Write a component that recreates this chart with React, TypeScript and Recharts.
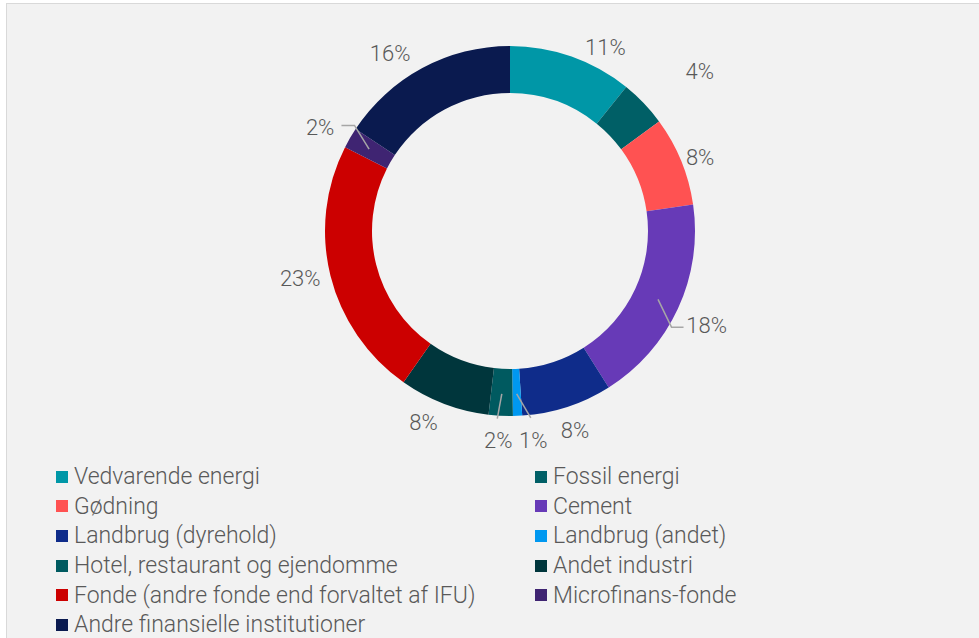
import React from 'react';
import { PieChart, Pie, Cell, Legend } from 'recharts';

// sector shares (%), clockwise from 12 o'clock
const SECTORS = [
  'Vedvarende energi',
  'Fossil energi',
  'Gødning',
  'Cement',
  'Landbrug (dyrehold)',
  'Landbrug (andet)',
  'Hotel, restaurant og ejendomme',
  'Andet industri',
  'Fonde (andre fonde end forvaltet af IFU)',
  'Microfinans-fonde',
  'Andre finansielle institutioner',
];
const SHARES = [10.8, 4.1, 7.8, 18.3, 7.9, 0.8, 2.1, 7.9, 22.7, 1.8, 15.7];
const COLORS = [
  '#0097a7',
  '#005f66',
  '#ff5252',
  '#673ab7',
  '#0f2c8a',
  '#0098f0',
  '#005a60',
  '#00363c',
  '#cc0000',
  '#3f2472',
  '#0a1a4f',
];

// label placement tweaks (degrees shift along the ring / radius)
const LABEL_SHIFT = [8, 3.6, 1, 0.8, 0, -4, 0.3, 3.4, 1.3, -1.7, -5.8];
const LABEL_R = [207, 248, 204, 218, 210, 211, 210, 210, 215, 216, 214];
// leader lines: index -> [angle shift of elbow, horizontal tail]
const LEADERS: Record<number, [number, number]> = {
  3: [6, 12],
  5: [-4, 0],
  6: [1, 0],
  9: [4, 13],
};

const TEXT = '#595959';
const FONT = 'Roboto, "Noto Sans", sans-serif';

const data = SECTORS.map((name, i) => ({ name, value: SHARES[i] }));

const pt = (cx: number, cy: number, r: number, deg: number) => {
  const a = (deg * Math.PI) / 180;
  return [cx + r * Math.sin(a), cy - r * Math.cos(a)];
};

const renderLabel = (props: any) => {
  const { cx, cy, midAngle, index, value } = props;
  const theta = 90 - midAngle; // clockwise from top
  const [lx, ly] = pt(cx, cy, LABEL_R[index], theta + LABEL_SHIFT[index]);
  const leader = LEADERS[index];
  let line = null;
  if (leader) {
    const [sx, sy] = pt(cx, cy, 163, theta);
    const [ex, ey] = pt(cx, cy, 188, theta + leader[0]);
    const dir = Math.sin((theta * Math.PI) / 180) >= 0 ? 1 : -1;
    const pts = `${sx},${sy} ${ex},${ey} ${ex + dir * leader[1]},${ey}`;
    line = <polyline points={pts} fill="none" stroke="#a6a6a6" strokeWidth={1.5} />;
  }
  return (
    <g key={`lbl-${index}`}>
      {line}
      <text
        x={lx}
        y={ly}
        textAnchor="middle"
        dominantBaseline="central"
        fill={TEXT}
        fontSize={22}
        fontWeight={300}
        fontFamily={FONT}
      >
        {`${Math.round(value)}%`}
      </text>
    </g>
  );
};

const renderLegend = () => (
  <div
    style={{
      display: 'grid',
      gridTemplateColumns: '479px 400px',
      fontFamily: FONT,
      fontWeight: 300,
      fontSize: 23,
      color: TEXT,
    }}
  >
    {SECTORS.map((name, i) => (
      <div key={name} style={{ display: 'flex', alignItems: 'center', height: 29.6, whiteSpace: 'nowrap' }}>
        <span style={{ width: 12, height: 12, background: COLORS[i], marginRight: 6, flexShrink: 0 }} />
        <span>{name}</span>
      </div>
    ))}
  </div>
);

export default function App() {
  return (
    <div style={{ position: 'absolute', left: 0, top: 0, width: 979, height: 638, background: '#fff', overflow: 'hidden' }}>
      <div
        style={{
          position: 'absolute',
          left: 6,
          top: 3,
          width: 990,
          height: 650,
          background: '#f2f2f2',
          borderLeft: '1.5px solid #d9d9d9',
          borderTop: '1.5px solid #d9d9d9',
        }}
      >
        <PieChart width={973} height={635}>
          <Pie
            data={data}
            dataKey="value"
            nameKey="name"
            cx={498}
            cy={222}
            innerRadius={138}
            outerRadius={185}
            startAngle={90}
            endAngle={-270}
            stroke="none"
            label={renderLabel}
            labelLine={false}
            isAnimationActive={false}
          >
            {data.map((d, i) => (
              <Cell key={d.name} fill={COLORS[i]} />
            ))}
          </Pie>
          <Legend
            content={renderLegend}
            wrapperStyle={{ position: 'absolute', left: 49, top: 458, bottom: 'auto', width: 900 }}
          />
        </PieChart>
      </div>
    </div>
  );
}
